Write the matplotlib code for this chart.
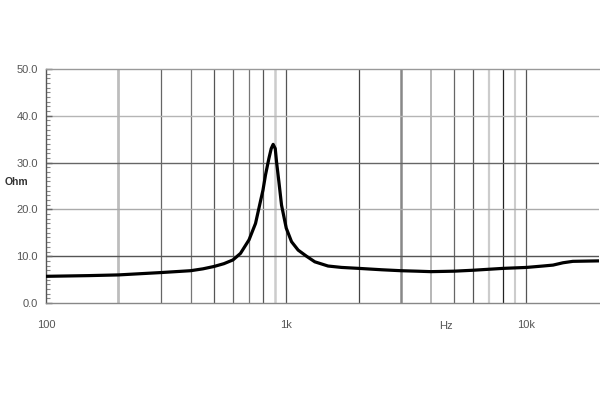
import matplotlib
matplotlib.use("Agg")
import matplotlib.pyplot as plt
from matplotlib.ticker import MultipleLocator, NullLocator, FixedLocator

# Data
freq_hz = [100, 150, 200, 300, 400, 450, 500, 550, 600, 645, 700, 745, 780, 800,
           820, 847, 866, 882, 900, 911, 932, 956, 1000, 1052, 1121, 1214, 1315,
           1493, 1700, 2000, 2500, 3000, 3500, 4000, 5000, 6000, 8000, 10000,
           11700, 12900, 14200, 15600, 20000]
impedance_ohm = [5.7, 5.85, 6.0, 6.5, 6.9, 7.3, 7.8, 8.4, 9.2, 10.6, 13.5, 17.0,
                 21.6, 24.1, 27.4, 30.9, 33.0, 33.9, 33.0, 30.2, 25.9, 20.9, 16.0,
                 13.1, 11.3, 10.0, 8.8, 7.9, 7.6, 7.4, 7.1, 6.9, 6.8, 6.7, 6.8, 7.0,
                 7.4, 7.6, 7.9, 8.1, 8.6, 8.9, 9.0]

y_ticks = [0, 10, 20, 30, 40, 50]
y_tick_labels = ["0.0", "10.0", "20.0", "30.0", "40.0", "50.0"]
x_ticks = [100, 1000, 10000]
x_tick_labels = ["100", "1k", "10k"]
v_grid_freqs = [200, 300, 400, 500, 600, 700, 800, 900, 1000,
                2000, 3000, 4000, 5000, 6000, 7000, 8000, 9000, 10000]
v_grid_colors = ["#bdbdbd", "#666666", "#777777", "#555555", "#666666", "#777777",
                 "#555555", "#cccccc", "#555555", "#444444", "#888888", "#aaaaaa",
                 "#666666", "#555555", "#cccccc", "#222222", "#cccccc", "#555555"]
v_grid_widths = [2.0, 0.9, 0.9, 0.9, 0.9, 0.9, 0.9, 1.8, 0.9,
                 0.9, 1.8, 1.2, 0.9, 0.9, 1.6, 0.9, 1.5, 0.9]
h_grid_vals = [10, 20, 30, 40]
h_grid_colors = ["#555555", "#aaaaaa", "#666666", "#b5b5b5"]

fig = plt.figure(figsize=(6, 4), dpi=100)
ax = fig.add_axes([46 / 600, 1 - 303 / 400, 1 - 46 / 600 - 0.002, (303 - 69) / 400])
ax.set_xscale("log")
ax.set_xlim(100, 20000)
ax.set_ylim(0, 50)

for f, c, w in zip(v_grid_freqs, v_grid_colors, v_grid_widths):
    ax.axvline(f, color=c, lw=w, zorder=1)
for v, c in zip(h_grid_vals, h_grid_colors):
    ax.axhline(v, color=c, lw=1.0, zorder=1)

ax.plot(freq_hz, impedance_ohm, color="black", lw=2.3, zorder=3,
        solid_joinstyle="round", solid_capstyle="round")

ax.xaxis.set_major_locator(FixedLocator(x_ticks))
ax.xaxis.set_minor_locator(NullLocator())
ax.set_xticklabels(x_tick_labels)
ax.set_yticks(y_ticks)
ax.set_yticklabels(y_tick_labels)
ax.yaxis.set_minor_locator(MultipleLocator(1))

ax.tick_params(axis="x", which="both", length=0, pad=12, labelsize=8,
               labelcolor="#555555")
ax.tick_params(axis="y", which="major", direction="in", length=4, width=1,
               color="#666666", pad=6, labelsize=8, labelcolor="#555555")
ax.tick_params(axis="y", which="minor", direction="in", length=3, width=0.8,
               color="#888888")
for lbl in ax.get_xticklabels() + ax.get_yticklabels():
    lbl.set_family("Liberation Sans")

ax.spines["left"].set_color("#555555")
ax.spines["bottom"].set_color("#888888")
ax.spines["top"].set_color("#999999")
ax.spines["right"].set_visible(False)
for s in ["left", "bottom", "top"]:
    ax.spines[s].set_linewidth(1.0)

fig.text(5 / 600, 1 - 182 / 400, "Ohm", fontsize=7.5, fontweight="bold",
         color="#333333", family="Liberation Sans", va="center", ha="left")
ax.text(4600, -0.078, "Hz", transform=ax.get_xaxis_transform(), fontsize=8,
        color="#555555", family="Liberation Sans", ha="center", va="top")

fig.savefig("out.png", dpi=100, facecolor="white")
